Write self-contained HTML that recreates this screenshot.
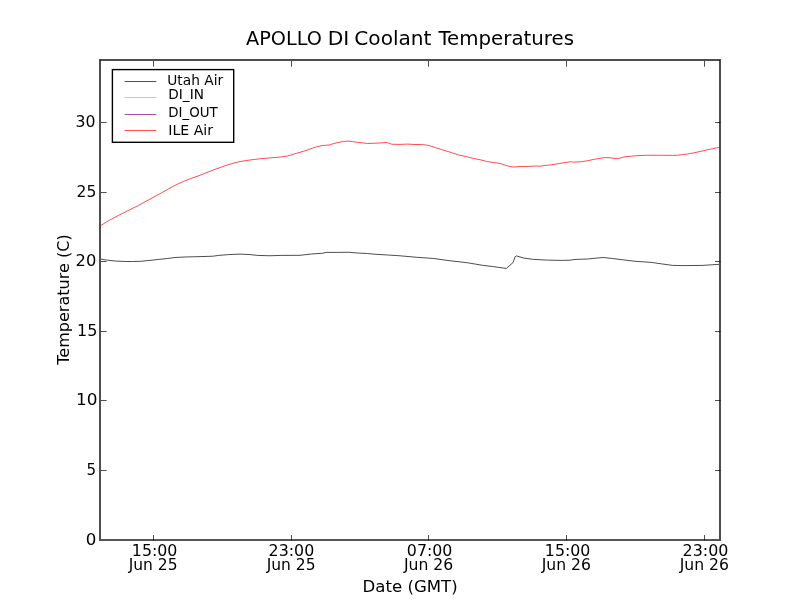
<!DOCTYPE html>
<html lang="en"><head><meta charset="utf-8"><title>APOLLO DI Coolant Temperatures</title>
<style>html,body{margin:0;padding:0;background:#fff;overflow:hidden}svg{display:block}text{font-family:'DejaVu Sans','Bitstream Vera Sans','Liberation Sans',sans-serif;fill:#000}</style></head><body>
<svg width="800" height="600" viewBox="0 0 800 600">
<rect x="0" y="0" width="800" height="600" fill="#fff"/>
<g fill="none" stroke-linejoin="round" stroke-linecap="butt" stroke-width="0.7">
<path d="M100.00,259.00 L106.25,260.00 L115.00,261.00 L125.00,261.50 L132.50,261.50 L141.25,261.25 L150.00,260.40 L158.75,259.40 L167.50,258.50 L175.00,257.50 L185.00,257.00 L193.75,256.75 L200.00,256.60 L212.50,256.25 L218.75,255.40 L228.75,254.60 L240.00,254.10 L250.00,254.60 L257.50,255.40 L270.00,255.75 L281.25,255.40 L300.00,255.30 L311.25,254.00 L322.50,253.25 L326.25,252.40 L337.50,252.40 L348.75,252.25 L357.50,253.00 L367.50,253.50 L375.00,254.25 L387.50,255.00 L397.50,255.60 L400.00,255.80 L416.25,257.25 L433.75,258.50 L450.00,260.75 L467.50,262.75 L482.50,265.30 L492.50,266.50 L500.00,267.50 L506.25,268.50 L513.10,262.50 L515.00,256.90 L516.50,255.90 L523.75,258.10 L533.75,259.40 L547.50,260.10 L561.25,260.40 L570.00,260.20 L575.00,259.45 L587.50,259.00 L595.00,258.25 L603.10,257.50 L612.50,258.50 L622.50,259.75 L635.00,261.25 L651.25,262.40 L662.50,264.00 L672.50,265.40 L685.00,265.60 L702.50,265.40 L712.50,264.75 L720.00,264.25" stroke="#000"/>
<path d="M100.00,226.00 L108.75,220.60 L118.75,215.25 L128.75,210.25 L138.75,205.25 L148.75,199.75 L158.75,194.40 L168.75,188.75 L176.25,184.75 L183.75,181.25 L191.25,178.40 L200.00,175.25 L210.00,171.25 L220.00,167.50 L230.00,164.10 L240.00,161.50 L250.00,160.00 L260.00,158.75 L270.00,157.90 L280.00,157.10 L287.50,156.00 L293.75,154.10 L300.00,152.30 L307.50,150.00 L315.00,147.25 L322.50,145.50 L329.40,145.00 L333.75,143.50 L340.00,142.10 L343.75,141.40 L348.10,141.10 L352.50,141.60 L358.75,142.50 L363.75,143.00 L367.50,143.50 L373.75,143.25 L381.25,142.90 L386.25,142.40 L388.75,143.10 L391.90,144.25 L400.00,144.40 L407.50,144.10 L415.00,144.50 L422.50,144.60 L428.75,145.40 L436.25,147.90 L443.75,150.25 L451.25,152.50 L458.75,155.00 L466.25,156.60 L473.75,158.50 L481.25,160.00 L487.50,161.60 L493.75,162.50 L500.00,163.45 L506.25,165.60 L513.10,167.10 L520.00,166.50 L528.75,166.40 L536.25,166.00 L540.00,166.25 L543.75,165.50 L551.25,164.90 L558.75,163.60 L566.25,162.40 L570.60,161.75 L573.75,162.10 L581.25,161.75 L587.50,160.75 L593.75,159.40 L600.00,158.30 L605.00,157.60 L610.00,157.75 L613.75,158.40 L618.75,158.40 L625.00,156.75 L632.50,156.00 L640.00,155.50 L647.50,155.25 L655.00,155.25 L665.00,155.25 L672.50,155.40 L677.50,155.25 L682.50,154.60 L688.75,153.80 L695.00,152.60 L700.00,151.50 L710.00,149.25 L720.00,147.20" stroke="#ff0000"/>
</g>
<g fill="#4e4e4e">
<rect x="99" y="59" width="622" height="2"/>
<rect x="99" y="59" width="2" height="482"/>
<rect x="719" y="59" width="2" height="482"/>
<rect x="99" y="540" width="622" height="1" fill="#545050"/>
<rect x="101" y="539" width="618" height="1" fill="#8b424c"/>
<rect x="100" y="60" width="1" height="1" fill="#181818"/><rect x="719" y="60" width="1" height="1" fill="#181818"/>
</g>
<g fill="#000" fill-opacity="0.69">
<rect x="153" y="535" width="1" height="5.7"/><rect x="153" y="61" width="1" height="5.7"/>
<rect x="291" y="535" width="1" height="5.7"/><rect x="291" y="61" width="1" height="5.7"/>
<rect x="428" y="535" width="1" height="5.7"/><rect x="428" y="61" width="1" height="5.7"/>
<rect x="566" y="535" width="1" height="5.7"/><rect x="566" y="61" width="1" height="5.7"/>
<rect x="704" y="535" width="1" height="5.7"/><rect x="704" y="61" width="1" height="5.7"/>
<rect x="101" y="122" width="5.6" height="1"/><rect x="715" y="122" width="5.6" height="1"/>
<rect x="101" y="192" width="5.6" height="1"/><rect x="715" y="192" width="5.6" height="1"/>
<rect x="101" y="261" width="5.6" height="1"/><rect x="715" y="261" width="5.6" height="1"/>
<rect x="101" y="331" width="5.6" height="1"/><rect x="715" y="331" width="5.6" height="1"/>
<rect x="101" y="400" width="5.6" height="1"/><rect x="715" y="400" width="5.6" height="1"/>
<rect x="101" y="470" width="5.6" height="1"/><rect x="715" y="470" width="5.6" height="1"/>
</g>
<rect x="112.4" y="69.6" width="121.3" height="72.7" fill="#fff" stroke="#000" stroke-width="1.39"/>
<g fill="none" stroke-width="0.69">
<path d="M124.6,81.5 H156.3" stroke="#000"/>
<path d="M124.6,97.5 H156.3" stroke="#ffa500"/>
<path d="M124.6,114.5 H156.3" stroke="#800080"/>
<path d="M124.6,130.5 H156.3" stroke="#ff0000"/>
</g>
<g>
<text transform="translate(246.06,44.90) scale(0.9639,1)" font-size="20.0">APOLLO</text>
<text transform="translate(327.67,44.90) scale(1.0145,1)" font-size="20.0">DI</text>
<text transform="translate(354.34,44.90) scale(1.0053,1)" font-size="20.0">Coolant</text>
<text transform="translate(438.40,44.90) scale(0.9897,1)" font-size="20.0">Temperatures</text>
<text transform="translate(131.84,555.80) scale(0.9489,1)" font-size="16.67">15:00</text>
<text transform="translate(128.70,569.80) scale(0.9314,1)" font-size="16.67">Jun 25</text>
<text transform="translate(268.61,555.80) scale(0.9495,1)" font-size="16.67">23:00</text>
<text transform="translate(266.70,569.80) scale(0.9314,1)" font-size="16.67">Jun 25</text>
<text transform="translate(406.85,555.80) scale(0.9486,1)" font-size="16.67">07:00</text>
<text transform="translate(403.90,569.80) scale(0.9378,1)" font-size="16.67">Jun 26</text>
<text transform="translate(544.84,555.80) scale(0.9489,1)" font-size="16.67">15:00</text>
<text transform="translate(541.70,569.80) scale(0.9378,1)" font-size="16.67">Jun 26</text>
<text transform="translate(682.61,555.80) scale(0.9538,1)" font-size="16.67">23:00</text>
<text transform="translate(679.70,569.80) scale(0.9378,1)" font-size="16.67">Jun 26</text>
<text transform="translate(85.75,545.00) scale(1.0000,1)" font-size="16.67">0</text>
<text transform="translate(86.62,475.00) scale(0.9062,1)" font-size="16.67">5</text>
<text transform="translate(75.98,405.00) scale(1.0137,1)" font-size="16.67">10</text>
<text transform="translate(77.07,336.00) scale(0.9583,1)" font-size="16.67">15</text>
<text transform="translate(75.53,266.00) scale(0.9787,1)" font-size="16.67">20</text>
<text transform="translate(76.58,197.00) scale(0.9324,1)" font-size="16.67">25</text>
<text transform="translate(75.57,127.00) scale(0.9413,1)" font-size="16.67">30</text>
<text transform="translate(362.61,591.80) scale(0.9946,1)" font-size="16.67">Date (GMT)</text>
<text transform="translate(68.90,364.80) rotate(-90) scale(0.9627,1)" font-size="16.67">Temperature (C)</text>
<text transform="translate(167.26,84.80) scale(0.9909,1)" font-size="13.89">Utah Air</text>
<text transform="translate(168.27,98.90) scale(0.9851,1)" font-size="13.89">DI_IN</text>
<text transform="translate(168.29,116.90) scale(0.9660,1)" font-size="13.89">DI_OUT</text>
<text transform="translate(168.23,134.50) scale(1.0175,1)" font-size="13.89">ILE Air</text>
</g>
</svg></body></html>
